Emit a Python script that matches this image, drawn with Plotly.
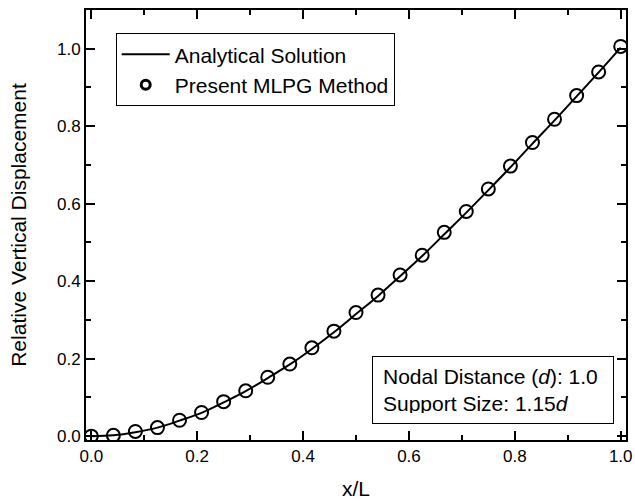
import plotly.graph_objects as go

# ---- data ----
x_nodes = [0.0, 0.0417, 0.0833, 0.125, 0.1667, 0.2083, 0.25, 0.2917, 0.3333,
           0.375, 0.4167, 0.4583, 0.5, 0.5417, 0.5833, 0.625, 0.6667, 0.7083,
           0.75, 0.7917, 0.8333, 0.875, 0.9167, 0.9583, 1.0]
analytical = [0.0, 0.002, 0.010, 0.022, 0.040, 0.060, 0.087, 0.116, 0.150,
              0.185, 0.225, 0.268, 0.315, 0.362, 0.413, 0.465, 0.521, 0.577,
              0.635, 0.694, 0.755, 0.815, 0.877, 0.939, 1.003]
mlpg = [0.0, 0.002, 0.012, 0.022, 0.041, 0.061, 0.089, 0.117, 0.152,
        0.186, 0.228, 0.271, 0.319, 0.364, 0.416, 0.467, 0.526, 0.580,
        0.638, 0.697, 0.758, 0.818, 0.879, 0.940, 1.006]

x_ticks = [0.0, 0.2, 0.4, 0.6, 0.8, 1.0]
y_ticks = [0.0, 0.2, 0.4, 0.6, 0.8, 1.0]
x_tick_text = ["0.0", "0.2", "0.4", "0.6", "0.8", "1.0"]
y_tick_text = ["0.0", "0.2", "0.4", "0.6", "0.8", "1.0"]

FONT = "Arial, 'Liberation Sans', Helvetica, sans-serif"

fig = go.Figure()
fig.add_trace(go.Scatter(
    x=x_nodes, y=analytical, mode="lines", name="Analytical Solution",
    line=dict(color="black", width=2, shape="spline"),
))
fig.add_trace(go.Scatter(
    x=x_nodes, y=mlpg, mode="markers", name="Present MLPG Method",
    marker=dict(symbol="circle-open", size=13, color="black",
                line=dict(color="black", width=2)),
    showlegend=False,
))
# legend-only entry with the smaller, bolder symbol used in the reference key
fig.add_trace(go.Scatter(
    x=[None], y=[None], mode="markers", name="Present MLPG Method",
    marker=dict(symbol="circle-open", size=9, color="black",
                line=dict(color="black", width=3)),
))

axis_common = dict(
    showgrid=False, zeroline=False,
    showline=True, linecolor="black", linewidth=2,
    mirror="ticks", ticks="inside", ticklen=9, tickwidth=1.5, tickcolor="black",
    tickfont=dict(family=FONT, size=17, color="black"),
    ticklabeloverflow="allow",
    minor=dict(ticks="inside", ticklen=5, tickwidth=1.5, tickcolor="black", dtick=0.1),
)

fig.update_xaxes(
    range=[-0.01, 1.01], tickvals=x_ticks, ticktext=x_tick_text,
    title=dict(text="x/L", font=dict(family=FONT, size=21, color="black"), standoff=16),
    **axis_common,
)
fig.update_yaxes(
    range=[-0.01, 1.10], tickvals=y_ticks, ticktext=y_tick_text,
    title=dict(text="Relative Vertical Displacement",
               font=dict(family=FONT, size=21, color="black"), standoff=25),
    **axis_common,
)

fig.add_annotation(
    xref="paper", yref="paper", x=0.5293, y=0.037, xanchor="left", yanchor="bottom",
    text="Nodal Distance (<i>d</i>): 1.0<br>Support Size: 1.15<i>d</i>",
    showarrow=False, align="left",
    font=dict(family=FONT, size=21, color="black"),
    bordercolor="black", borderwidth=1, borderpad=10, bgcolor="white",
    width=220, height=46,
)

fig.update_layout(
    width=635, height=500,
    margin=dict(l=86, r=3, t=10, b=60),
    paper_bgcolor="white", plot_bgcolor="white",
    font=dict(family=FONT, color="black"),
    showlegend=True,
    legend=dict(
        x=0.055, y=0.946, xanchor="left", yanchor="top",
        font=dict(family=FONT, size=21, color="black"),
        bordercolor="black", borderwidth=1, bgcolor="white",
        itemwidth=48, tracegroupgap=0,
    ),
)

fig.write_html("out.html")
